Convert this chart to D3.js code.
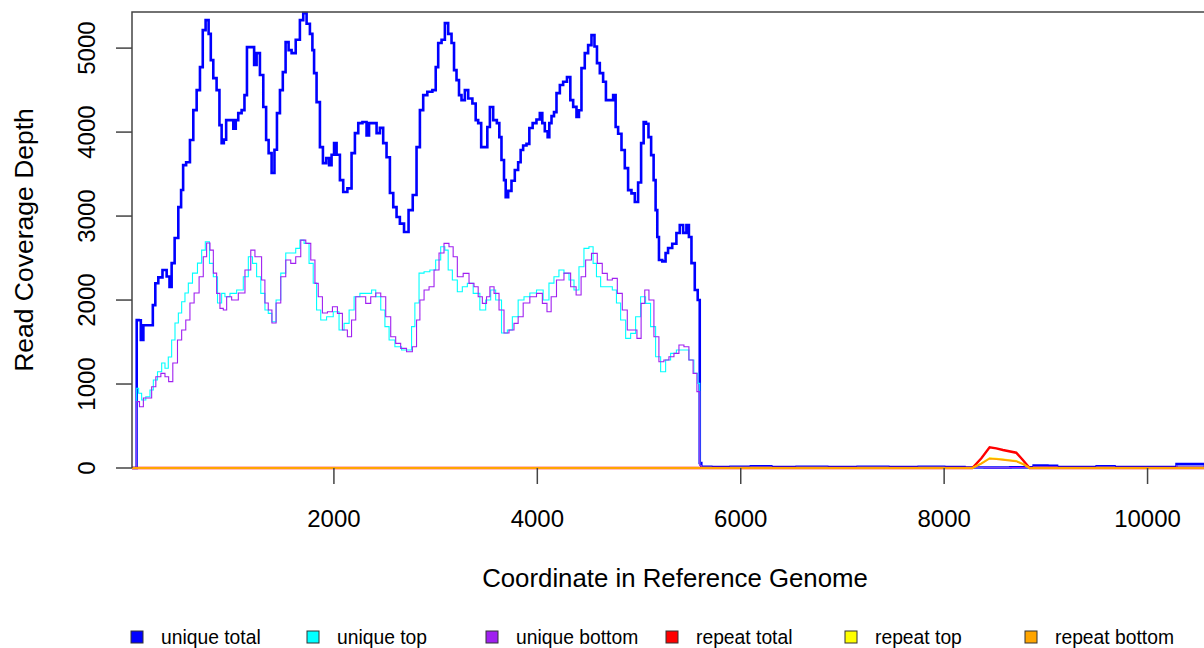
<!DOCTYPE html>
<html lang="en">
<head>
<meta charset="utf-8">
<script src="https://cdn.jsdelivr.net/npm/d3@7"></script>
<style>
  body { margin: 0; background: #fff; }
  svg { display: block; }
  text { font-family: "Liberation Sans", Arial, sans-serif; fill: #000; }
</style>
</head>
<body>
<div id="my_dataviz"></div>
<script>
// ---- data ----
var uniqueTotalPos = [0, 55, 67, 93, 110, 143, 208, 231, 257, 290, 339, 372, 395, 414, 454, 486, 509, 526, 568, 601, 634, 667, 699, 722, 755, 781, 798, 830, 863, 886, 906, 929, 952, 994, 1027, 1043, 1076, 1109, 1132, 1158, 1207, 1224, 1256, 1289, 1322, 1345, 1371, 1404, 1427, 1453, 1486, 1509, 1541, 1568, 1600, 1649, 1682, 1715, 1748, 1780, 1797, 1813, 1846, 1879, 1905, 1944, 1961, 1993, 2010, 2043, 2075, 2108, 2157, 2190, 2223, 2256, 2305, 2337, 2354, 2403, 2436, 2468, 2501, 2534, 2567, 2600, 2632, 2665, 2714, 2754, 2796, 2829, 2862, 2894, 2943, 2993, 3009, 3042, 3075, 3107, 3140, 3173, 3189, 3222, 3238, 3271, 3304, 3337, 3386, 3402, 3435, 3461, 3500, 3517, 3550, 3582, 3622, 3631, 3664, 3681, 3697, 3730, 3762, 3795, 3828, 3844, 3877, 3910, 3933, 3975, 4008, 4041, 4057, 4090, 4113, 4123, 4156, 4172, 4205, 4238, 4270, 4313, 4336, 4369, 4401, 4418, 4450, 4483, 4516, 4549, 4575, 4598, 4631, 4663, 4686, 4729, 4762, 4778, 4811, 4844, 4876, 4909, 4942, 4975, 5007, 5034, 5057, 5080, 5106, 5132, 5155, 5171, 5188, 5204, 5253, 5269, 5302, 5351, 5384, 5417, 5450, 5482, 5499, 5532, 5564, 5590, 5604];
var uniqueTotal = [0, 0, 1762, 1760, 1524, 1700, 1700, 1940, 2200, 2270, 2357, 2280, 2155, 2440, 2738, 3107, 3310, 3607, 3640, 3905, 4262, 4500, 4774, 5214, 5333, 5170, 4857, 4643, 4500, 4083, 3869, 3910, 4143, 4143, 4040, 4143, 4226, 4262, 4440, 5012, 5012, 4798, 4940, 4680, 4298, 3905, 3750, 3512, 3790, 4226, 4500, 4714, 5071, 4976, 4940, 5100, 5333, 5417, 5290, 5170, 4976, 4702, 4357, 3821, 3631, 3690, 3607, 3730, 3869, 3730, 3428, 3286, 3330, 3750, 3988, 4107, 4120, 3960, 4107, 4107, 3988, 4050, 3869, 3700, 3274, 3107, 2988, 2910, 2810, 3071, 3250, 3821, 4262, 4440, 4480, 4500, 4774, 5060, 5100, 5298, 5170, 5060, 4738, 4619, 4440, 4381, 4500, 4400, 4340, 4143, 4107, 3821, 3821, 4060, 4298, 4143, 4107, 3940, 3667, 3428, 3226, 3300, 3420, 3548, 3640, 3786, 3840, 3860, 4048, 4107, 4150, 4226, 4107, 4010, 3940, 4107, 4190, 4238, 4464, 4560, 4600, 4655, 4381, 4300, 4179, 4260, 4762, 4940, 5036, 5155, 5020, 4821, 4702, 4600, 4381, 4381, 4440, 4060, 3980, 3786, 3571, 3309, 3270, 3167, 3400, 3869, 4119, 4100, 3940, 3726, 3428, 3071, 2750, 2476, 2460, 2560, 2619, 2670, 2798, 2893, 2800, 2893, 2750, 2440, 2119, 2000, 60];

var uniqueTopPos = [0, 55, 67, 93, 126, 175, 208, 241, 290, 323, 355, 388, 421, 454, 487, 519, 552, 585, 634, 683, 716, 755, 798, 831, 880, 912, 945, 1011, 1076, 1142, 1175, 1224, 1256, 1306, 1338, 1371, 1410, 1453, 1502, 1551, 1600, 1649, 1682, 1731, 1780, 1813, 1846, 1895, 1961, 2026, 2075, 2125, 2174, 2223, 2288, 2354, 2387, 2436, 2485, 2518, 2567, 2632, 2698, 2747, 2780, 2812, 2862, 2911, 2976, 3025, 3075, 3107, 3140, 3189, 3238, 3287, 3337, 3402, 3468, 3517, 3566, 3615, 3681, 3730, 3779, 3844, 3894, 3959, 4025, 4090, 4139, 4188, 4237, 4287, 4336, 4385, 4434, 4483, 4532, 4565, 4598, 4647, 4713, 4762, 4794, 4844, 4893, 4942, 4991, 5040, 5089, 5138, 5188, 5237, 5286, 5335, 5400, 5466, 5515, 5564, 5590, 5604];
var uniqueTop = [0, 0, 949, 890, 810, 849, 929, 1048, 1147, 1250, 1187, 1321, 1524, 1726, 1845, 1980, 2083, 2202, 2321, 2440, 2595, 2694, 2437, 2278, 1964, 2079, 2040, 2079, 2119, 2278, 2516, 2437, 2278, 2079, 1881, 1841, 1742, 2000, 2321, 2560, 2560, 2615, 2714, 2675, 2437, 2202, 1881, 1762, 1801, 1861, 1643, 1722, 1881, 2040, 2079, 2079, 2119, 2040, 1881, 1683, 1524, 1444, 1405, 1405, 1683, 1964, 2321, 2337, 2357, 2476, 2635, 2595, 2357, 2238, 2099, 2159, 2198, 2079, 1881, 2000, 2119, 2000, 1607, 1643, 1801, 2000, 2040, 2083, 2119, 2000, 2202, 2278, 2357, 2318, 2238, 2119, 2397, 2615, 2635, 2437, 2278, 2159, 2159, 2119, 1964, 1762, 1544, 1603, 1801, 2040, 1960, 1683, 1325, 1147, 1286, 1365, 1405, 1405, 1286, 1127, 1008, 30];

var uniqueBottomPos = [0, 55, 67, 110, 143, 192, 224, 274, 323, 355, 395, 437, 487, 519, 568, 601, 650, 699, 732, 765, 798, 831, 863, 896, 929, 962, 1027, 1093, 1158, 1207, 1240, 1273, 1305, 1338, 1371, 1410, 1453, 1502, 1551, 1600, 1649, 1699, 1748, 1797, 1830, 1862, 1912, 1961, 2010, 2059, 2108, 2157, 2190, 2239, 2288, 2337, 2387, 2436, 2485, 2534, 2583, 2632, 2681, 2747, 2796, 2829, 2862, 2911, 2960, 3009, 3058, 3107, 3156, 3189, 3238, 3304, 3353, 3402, 3435, 3484, 3517, 3550, 3599, 3648, 3697, 3746, 3795, 3828, 3894, 3959, 4025, 4074, 4116, 4156, 4221, 4303, 4352, 4411, 4450, 4500, 4565, 4614, 4663, 4713, 4762, 4811, 4860, 4909, 4958, 5001, 5040, 5073, 5122, 5171, 5220, 5269, 5319, 5368, 5417, 5466, 5515, 5548, 5590, 5604];
var uniqueBottom = [0, 0, 790, 730, 833, 833, 968, 1087, 1127, 1087, 1028, 1250, 1524, 1643, 1762, 1964, 2083, 2278, 2516, 2679, 2595, 2321, 2079, 1901, 1881, 2040, 2000, 2083, 2357, 2595, 2516, 2516, 2238, 1964, 1881, 1726, 1964, 2278, 2476, 2437, 2516, 2714, 2675, 2476, 2198, 2040, 1845, 1861, 1921, 1841, 1643, 1563, 1762, 2040, 2040, 1960, 2040, 2083, 2040, 1801, 1563, 1484, 1425, 1385, 1444, 1762, 2000, 2119, 2159, 2357, 2560, 2675, 2635, 2516, 2278, 2318, 2198, 2159, 2040, 1960, 2040, 2159, 2079, 1881, 1607, 1643, 1722, 1801, 1964, 2040, 2079, 1960, 1861, 2040, 2238, 2321, 2159, 2060, 2278, 2476, 2556, 2437, 2318, 2238, 2258, 2079, 1881, 1643, 1643, 1544, 1960, 2119, 2000, 1563, 1266, 1286, 1325, 1365, 1464, 1444, 1286, 1127, 909, 30];

// low coverage after the drop
var tailPos = [5620, 5800, 6000, 6200, 6400, 6700, 7000, 7300, 7600, 7900, 8100, 8300, 8500, 8800, 8960, 9070, 9150, 9400, 9600, 9750, 10000, 10200, 10370, 10520, 10600];
var tailTotal = [15, 10, 15, 20, 10, 15, 10, 15, 10, 15, 10, 6, 5, 8, 28, 25, 10, 12, 20, 10, 12, 10, 48, 48, 30];
var tailTop = [8, 5, 8, 10, 5, 8, 5, 8, 5, 8, 5, 3, 3, 4, 14, 12, 5, 6, 10, 5, 6, 5, 24, 24, 15];
var tailBottom = [7, 5, 7, 10, 5, 7, 5, 7, 5, 7, 5, 3, 2, 4, 14, 13, 5, 6, 10, 5, 6, 5, 24, 24, 15];

var repeatPos = [0, 8277, 8366, 8447, 8513, 8578, 8709, 8774, 8840, 10600];
var repeatTotal = [0, 0, 115, 246, 234, 214, 182, 95, 0, 0];
var repeatTop = [0, 0, 56, 118, 112, 103, 85, 50, 0, 0];
var repeatBottom = [0, 0, 52, 112, 106, 98, 80, 46, 0, 0];

var seriesNames = ["unique total", "unique top", "unique bottom", "repeat total", "repeat top", "repeat bottom"];
var seriesColors = ["#0000FF", "#00FFFF", "#A020F0", "#FF0000", "#FFFF00", "#FFA500"];
var seriesWidths = [2.6, 1.1, 1.1, 2.4, 1.8, 1.8];

var xTicks = [2000, 4000, 6000, 8000, 10000];
var yTicks = [0, 1000, 2000, 3000, 4000, 5000];

function zip(pos, val) {
    return pos.map(function (p, i) { return [p, val[i]]; });
}

var series = [
    zip(uniqueTotalPos.concat(tailPos), uniqueTotal.concat(tailTotal)),
    zip(uniqueTopPos.concat(tailPos), uniqueTop.concat(tailTop)),
    zip(uniqueBottomPos.concat(tailPos), uniqueBottom.concat(tailBottom)),
    zip(repeatPos, repeatTotal),
    zip(repeatPos, repeatTop),
    zip(repeatPos, repeatBottom)
];

// ---- layout ----
var width = 1204, height = 648;
var plot = {left: 132, top: 12, bottom: 468};

var svg = d3.select("#my_dataviz")
    .append("svg")
    .attr("width", width)
    .attr("height", height);

var x = d3.scaleLinear().domain([0, 10555]).range([130.5, 1204]);
var y = d3.scaleLinear().domain([0, 5430]).range([plot.bottom, plot.top]);

svg.append("clipPath").attr("id", "clip")
    .append("rect")
    .attr("x", plot.left).attr("y", plot.top - 2)
    .attr("width", width - plot.left + 10).attr("height", plot.bottom - plot.top + 4);

var line = d3.line()
    .x(function (d) { return x(d[0]); })
    .y(function (d) { return y(d[1]); });

var lines = svg.append("g").attr("clip-path", "url(#clip)");
series.forEach(function (s, i) {
    lines.append("path")
        .datum(s)
        .attr("fill", "none")
        .attr("stroke", seriesColors[i])
        .attr("stroke-width", seriesWidths[i])
        .attr("stroke-linejoin", "miter")
        .attr("d", line.curve(i < 3 ? d3.curveStep : d3.curveLinear));
});

// frame (right side runs off the picture)
svg.append("path")
    .attr("d", "M" + (width + 5) + "," + plot.top + "H" + plot.left + "V" + plot.bottom)
    .attr("fill", "none")
    .attr("stroke", "#444")
    .attr("stroke-width", 1.5);

// y axis
var yAxis = svg.append("g");
yAxis.selectAll("line").data(yTicks).enter().append("line")
    .attr("x1", 116).attr("x2", plot.left)
    .attr("y1", function (d) { return y(d); })
    .attr("y2", function (d) { return y(d); })
    .attr("stroke", "#444").attr("stroke-width", 1.5);
yAxis.selectAll("text").data(yTicks).enter().append("text")
    .attr("transform", function (d) { return "translate(95," + y(d) + ") rotate(-90)"; })
    .attr("text-anchor", "middle")
    .style("font-size", "24px")
    .text(function (d) { return d; });

// x axis
var xAxis = svg.append("g");
xAxis.selectAll("line").data(xTicks).enter().append("line")
    .attr("x1", function (d) { return x(d); })
    .attr("x2", function (d) { return x(d); })
    .attr("y1", plot.bottom).attr("y2", plot.bottom + 16)
    .attr("stroke", "#444").attr("stroke-width", 1.5);
xAxis.selectAll("text").data(xTicks).enter().append("text")
    .attr("x", function (d) { return x(d); })
    .attr("y", 527)
    .attr("text-anchor", "middle")
    .style("font-size", "24px")
    .text(function (d) { return d; });

svg.append("text")
    .attr("x", 675).attr("y", 587)
    .attr("text-anchor", "middle")
    .style("font-size", "25.8px")
    .text("Coordinate in Reference Genome");

svg.append("text")
    .attr("transform", "translate(33,240) rotate(-90)")
    .attr("text-anchor", "middle")
    .style("font-size", "26.5px")
    .text("Read Coverage Depth");

// legend
var legendX = [131, 307, 486, 666, 845, 1025];
var legend = svg.selectAll(".leg")
    .data(seriesNames)
    .enter()
    .append("g")
    .attr("class", "leg")
    .attr("transform", function (d, i) { return "translate(" + legendX[i] + ",637)"; });
legend.append("rect")
    .attr("x", 0).attr("y", -6)
    .attr("width", 12).attr("height", 12)
    .attr("fill", function (d, i) { return seriesColors[i]; })
    .attr("stroke", "#333").attr("stroke-width", 1);
legend.append("text")
    .attr("x", 30).attr("y", 7)
    .style("font-size", "19.3px")
    .text(function (d) { return d; });
</script>
</body>
</html>
